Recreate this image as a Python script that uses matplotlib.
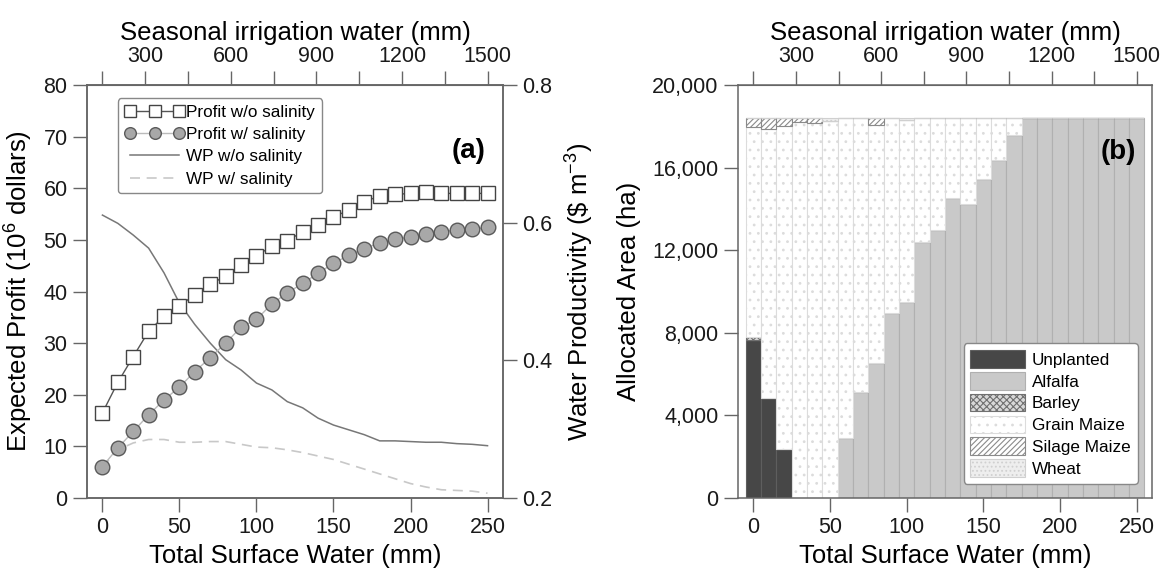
import matplotlib
matplotlib.use("Agg")
import matplotlib.pyplot as plt
import numpy as np
from matplotlib.ticker import FuncFormatter, FixedLocator

plt.rcParams['font.family'] = ['Liberation Sans', 'DejaVu Sans']
plt.rcParams['mathtext.fontset'] = 'custom'
plt.rcParams['mathtext.rm'] = 'Liberation Sans'
plt.rcParams['mathtext.it'] = 'Liberation Sans'
plt.rcParams['hatch.linewidth'] = 0.8

# ---------------- data ----------------
water = [0, 10, 20, 30, 40, 50, 60, 70, 80, 90, 100, 110, 120, 130, 140, 150,
         160, 170, 180, 190, 200, 210, 220, 230, 240, 250]

profit_no_sal = [16.5, 22.4, 27.4, 32.3, 35.2, 37.2, 39.4, 41.4, 43.0, 45.2, 46.8,
                 48.9, 49.8, 51.6, 52.9, 54.4, 55.8, 57.4, 58.5, 58.8, 59.0, 59.2,
                 59.0, 59.0, 59.0, 59.0]
profit_sal = [6.1, 9.7, 12.9, 16.1, 19.0, 21.5, 24.5, 27.2, 30.0, 33.1, 34.6, 37.6,
              39.7, 41.6, 43.5, 45.5, 47.0, 48.3, 49.4, 50.1, 50.6, 51.2, 51.6, 51.9,
              52.1, 52.4]
wp_no_sal = [0.611, 0.599, 0.582, 0.563, 0.527, 0.483, 0.452, 0.425, 0.401, 0.386,
             0.367, 0.357, 0.340, 0.331, 0.316, 0.306, 0.299, 0.292, 0.283, 0.283,
             0.282, 0.281, 0.281, 0.279, 0.278, 0.276]
wp_sal = [0.244, 0.270, 0.280, 0.285, 0.285, 0.281, 0.281, 0.282, 0.282, 0.278,
          0.274, 0.273, 0.270, 0.266, 0.261, 0.256, 0.249, 0.242, 0.235, 0.228,
          0.221, 0.216, 0.212, 0.211, 0.210, 0.207]

unplanted = [7650, 4860, 2370, 0, 0, 0, 0, 0, 0, 0, 0, 0, 0, 0, 0, 0, 0, 0, 0, 0,
             0, 0, 0, 0, 0, 0]
alfalfa = [0, 0, 0, 0, 0, 0, 2890, 5120, 6550, 8940, 9510, 12380, 12980, 14550,
           14220, 15450, 16370, 17580, 18390, 18390, 18390, 18390, 18390, 18390,
           18390, 18390]
barley = [160, 0, 0, 0, 0, 0, 0, 0, 0, 0, 0, 0, 0, 0, 0, 0, 0, 0, 0, 0, 0, 0, 0,
          0, 0, 0]
grain_maize = [10160, 13030, 15650, 18230, 18180, 18260, 15500, 13270, 11520, 9450,
               8780, 6010, 5410, 3840, 4170, 2940, 2020, 810, 0, 0, 0, 0, 0, 0, 0, 0]
silage_maize = [420, 500, 370, 160, 210, 0, 0, 0, 320, 0, 0, 0, 0, 0, 0, 0, 0, 0,
                0, 0, 0, 0, 0, 0, 0, 0]
wheat = [0, 0, 0, 0, 0, 130, 0, 0, 0, 0, 100, 0, 0, 0, 0, 0, 0, 0, 0, 0, 0, 0, 0,
         0, 0, 0]

top_ticks = [150, 300, 450, 600, 750, 900, 1050, 1200, 1350, 1500]

# ---------------- figure ----------------
fig = plt.figure(figsize=(11.65, 5.77), dpi=100)
axL = fig.add_axes([0.0747, 0.1369, 0.357, 0.7158])
axR = fig.add_axes([0.6335, 0.1369, 0.3554, 0.7158])

spine_c = '#666666'
TICK = 15.5
LAB = 18.5


def style_axes(ax):
    for s in ax.spines.values():
        s.set_color(spine_c)
        s.set_linewidth(1.1)
    ax.tick_params(direction='out', length=10, width=1.0, color=spine_c,
                   labelsize=TICK, labelcolor='#1a1a1a', pad=4)


def add_top(ax):
    sec = ax.secondary_xaxis('top', functions=(lambda x: 150 + 5.4 * x,
                                               lambda t: (t - 150) / 5.4))
    sec.xaxis.set_major_locator(FixedLocator(top_ticks))
    sec.xaxis.set_major_formatter(FuncFormatter(
        lambda v, p: f"{int(round(v))}" if int(round(v)) % 300 == 0 else ""))
    sec.tick_params(direction='out', length=10, width=1.0, color=spine_c,
                    labelsize=TICK, labelcolor='#1a1a1a', pad=3)
    sec.spines['top'].set_color(spine_c)
    sec.set_xlabel('Seasonal irrigation water (mm)', fontsize=LAB, labelpad=4)
    return sec


# ---- panel (a) ----
style_axes(axL)
axL.set_xlim(-10, 260)
axL.set_ylim(0, 80)
axL.set_yticks(np.arange(0, 81, 10))
axL.set_xticks([0, 50, 100, 150, 200, 250])
axL.tick_params(axis='x', top=False)
axL.set_xlabel('Total Surface Water (mm)', fontsize=LAB, labelpad=4)
axL.set_ylabel('Expected Profit (10$^6$ dollars)', fontsize=LAB, labelpad=6)

l1, = axL.plot(water, profit_no_sal, '-s', color='#555555', lw=1.0, ms=10.5,
               mfc='white', mec='#444444', mew=1.0, label='Profit w/o salinity')
l2, = axL.plot(water, profit_sal, '-o', color='#bbbbbb', lw=1.0, ms=10.5,
               mfc='#a8a8a8', mec='#5a5a5a', mew=1.0, label='Profit w/ salinity')

axL2 = axL.twinx()
style_axes(axL2)
axL2.set_ylim(0.2, 0.8)
axL2.set_yticks([0.2, 0.4, 0.6, 0.8])
axL2.set_ylabel('Water Productivity (\\$ m$^{-3}$)', fontsize=LAB, labelpad=8)
l3, = axL2.plot(water, wp_no_sal, '-', color='#777777', lw=1.1, label='WP w/o salinity')
l4, = axL2.plot(water, wp_sal, '--', color='#c8c8c8', lw=1.2, dashes=(6, 4),
                label='WP w/ salinity')
axL.set_zorder(axL2.get_zorder() + 1)
axL.patch.set_visible(False)

leg = axL.legend(handles=[l1, l2, l3, l4], loc='upper left',
                 bbox_to_anchor=(0.074, 0.968), fontsize=12.3, numpoints=3,
                 markerscale=0.8,
                 handlelength=3.5, handletextpad=0.12, labelspacing=0.42,
                 borderpad=0.4, frameon=True, fancybox=True, framealpha=1,
                 borderaxespad=0)
leg.get_frame().set_edgecolor('#888888')
leg.get_frame().set_linewidth(1.0)
axL.text(0.917, 0.84, '(a)', transform=axL.transAxes, fontsize=20,
         fontweight='bold', ha='center', va='center')
add_top(axL)

# ---- panel (b) ----
style_axes(axR)
axR.set_xlim(-10, 260)
axR.set_ylim(0, 20000)
axR.set_yticks(np.arange(0, 20001, 4000))
axR.yaxis.set_major_formatter(FuncFormatter(lambda v, p: f"{int(v):,}"))
axR.set_xticks([0, 50, 100, 150, 200, 250])
axR.set_xlabel('Total Surface Water (mm)', fontsize=LAB, labelpad=4)
axR.set_ylabel('Allocated Area (ha)', fontsize=LAB, labelpad=8)

layers = [
    ('Unplanted', unplanted, dict(color='#474747', edgecolor='#5e5e5e', hatch=None)),
    ('Alfalfa', alfalfa, dict(color='#c9c9c9', edgecolor='#b0b0b0', hatch=None)),
    ('Barley', barley, dict(color='#d8d8d8', edgecolor='#707070', hatch='xxxxx')),
    ('Grain Maize', grain_maize, dict(color='white', edgecolor='#dcdcdc', hatch='..')),
    ('Silage Maize', silage_maize, dict(color='white', edgecolor='#8a8a8a', hatch='//////')),
    ('Wheat', wheat, dict(color='#eeeeee', edgecolor='#d0d0d0', hatch='....')),
]
bottom = np.zeros(len(water))
handles = []
for name, vals, st in layers:
    vals = np.asarray(vals, dtype=float)
    b = axR.bar(water, vals, width=10, bottom=bottom, color=st['color'],
                edgecolor=st['edgecolor'], hatch=st['hatch'], linewidth=0.8,
                label=name, zorder=2)
    handles.append(b)
    bottom = bottom + vals

legR = axR.legend(handles=handles, loc='lower right', bbox_to_anchor=(0.965, 0.035),
                  fontsize=12.3, handlelength=3.2, handleheight=1.2,
                  handletextpad=0.4, labelspacing=0.25, borderpad=0.4,
                  frameon=True, fancybox=True, framealpha=1, borderaxespad=0)
legR.get_frame().set_edgecolor('#888888')
legR.get_frame().set_linewidth(1.0)
legR.set_zorder(5)
axR.text(0.918, 0.838, '(b)', transform=axR.transAxes, fontsize=20,
         fontweight='bold', ha='center', va='center', zorder=6)
add_top(axR)

fig.savefig('out.png', dpi=100)
